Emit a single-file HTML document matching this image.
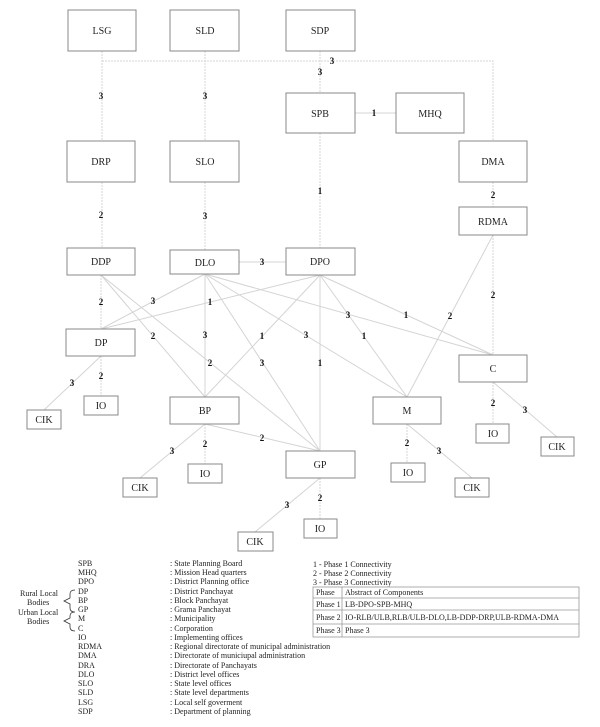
<!DOCTYPE html>
<html><head><meta charset="utf-8"><style>
body{margin:0;background:#fff;}
svg{display:block;font-family:"Liberation Serif",serif;}
.b{fill:#fff;stroke:#888;stroke-width:1}
.t{font-size:10px;text-anchor:middle;fill:#222}
.l{stroke:#d4d4d4;stroke-width:1;fill:none}
.d{stroke:#d4d4d4;stroke-width:1;stroke-dasharray:2,1;fill:none}
.n{font-size:9px;font-weight:bold;text-anchor:middle;fill:#111}
.g{font-size:8px;fill:#222}
</style></head><body>
<svg width="600" height="727" viewBox="0 0 600 727">
<path class="d" d="M102 51V141 M205 51V141 M320 51V93 M102 61H493V141 M320 133V248 M102 182V248 M205 182V250 M493 182V207 M493 235V355 M101 275V329 M101 356V396 M205 424V464 M320 478V519 M407 424V463 M493 382V424"/>
<path class="l" d="M355 113H396 M239 262H286
M205 274L101 329 M320 275L101 329
M101 275L205 397 M101 275L320 451
M205 274L205 397 M205 274L320 451 M205 274L407 397 M205 274L493 355
M320 275L205 397 M320 275V451 M320 275L407 397 M320 275L493 355
M493 235L407 397
M205 424L320 451
M101 356L44 410 M205 424L140 478 M320 478L255 532 M407 424L472 478 M493 382L557 437"/>
<g>
<rect class="b" x="68" y="10" width="68" height="41"/><text class="t" x="102" y="34">LSG</text>
<rect class="b" x="170" y="10" width="69" height="41"/><text class="t" x="205" y="34">SLD</text>
<rect class="b" x="286" y="10" width="69" height="41"/><text class="t" x="320" y="34">SDP</text>
<rect class="b" x="286" y="93" width="69" height="40"/><text class="t" x="320" y="117">SPB</text>
<rect class="b" x="396" y="93" width="68" height="40"/><text class="t" x="430" y="117">MHQ</text>
<rect class="b" x="67" y="141" width="68" height="41"/><text class="t" x="101" y="165">DRP</text>
<rect class="b" x="170" y="141" width="69" height="41"/><text class="t" x="205" y="165">SLO</text>
<rect class="b" x="459" y="141" width="68" height="41"/><text class="t" x="493" y="165">DMA</text>
<rect class="b" x="459" y="207" width="68" height="28"/><text class="t" x="493" y="225">RDMA</text>
<rect class="b" x="67" y="248" width="68" height="27"/><text class="t" x="101" y="265">DDP</text>
<rect class="b" x="170" y="250" width="69" height="24"/><text class="t" x="205" y="266">DLO</text>
<rect class="b" x="286" y="248" width="69" height="27"/><text class="t" x="320" y="265">DPO</text>
<rect class="b" x="66" y="329" width="69" height="27"/><text class="t" x="101" y="346">DP</text>
<rect class="b" x="459" y="355" width="68" height="27"/><text class="t" x="493" y="372">C</text>
<rect class="b" x="170" y="397" width="69" height="27"/><text class="t" x="205" y="414">BP</text>
<rect class="b" x="373" y="397" width="68" height="27"/><text class="t" x="407" y="414">M</text>
<rect class="b" x="286" y="451" width="69" height="27"/><text class="t" x="320" y="468">GP</text>
<rect class="b" x="27" y="410" width="34" height="19"/><text class="t" x="44" y="423">CIK</text>
<rect class="b" x="84" y="396" width="34" height="19"/><text class="t" x="101" y="409">IO</text>
<rect class="b" x="123" y="478" width="34" height="19"/><text class="t" x="140" y="491">CIK</text>
<rect class="b" x="188" y="464" width="34" height="19"/><text class="t" x="205" y="477">IO</text>
<rect class="b" x="238" y="532" width="35" height="19"/><text class="t" x="255" y="545">CIK</text>
<rect class="b" x="304" y="519" width="33" height="19"/><text class="t" x="320" y="532">IO</text>
<rect class="b" x="391" y="463" width="34" height="19"/><text class="t" x="408" y="476">IO</text>
<rect class="b" x="455" y="478" width="34" height="19"/><text class="t" x="472" y="491">CIK</text>
<rect class="b" x="476" y="424" width="33" height="19"/><text class="t" x="493" y="437">IO</text>
<rect class="b" x="541" y="437" width="33" height="19"/><text class="t" x="557" y="450">CIK</text>
</g>
<g>
<text class="n" x="332" y="64">3</text><text class="n" x="320" y="75">3</text>
<text class="n" x="101" y="99">3</text><text class="n" x="205" y="99">3</text>
<text class="n" x="374" y="116">1</text><text class="n" x="320" y="194">1</text>
<text class="n" x="101" y="218">2</text><text class="n" x="205" y="219">3</text>
<text class="n" x="493" y="198">2</text><text class="n" x="262" y="265">3</text>
<text class="n" x="101" y="305">2</text><text class="n" x="153" y="304">3</text>
<text class="n" x="210" y="305">1</text><text class="n" x="348" y="318">3</text>
<text class="n" x="406" y="318">1</text><text class="n" x="450" y="319">2</text>
<text class="n" x="493" y="298">2</text><text class="n" x="153" y="339">2</text>
<text class="n" x="205" y="338">3</text><text class="n" x="262" y="339">1</text>
<text class="n" x="306" y="338">3</text><text class="n" x="364" y="339">1</text>
<text class="n" x="210" y="366">2</text><text class="n" x="262" y="366">3</text>
<text class="n" x="320" y="366">1</text><text class="n" x="72" y="386">3</text>
<text class="n" x="101" y="379">2</text><text class="n" x="262" y="441">2</text>
<text class="n" x="172" y="454">3</text><text class="n" x="205" y="447">2</text>
<text class="n" x="493" y="406">2</text><text class="n" x="525" y="413">3</text>
<text class="n" x="407" y="446">2</text><text class="n" x="439" y="454">3</text>
<text class="n" x="287" y="508">3</text><text class="n" x="320" y="501">2</text>
</g>
<g class="g">
<text x="78" y="566">SPB</text><text x="170" y="566">: State Planning Board</text>
<text x="78" y="575">MHQ</text><text x="170" y="575">: Mission Head quarters</text>
<text x="78" y="584">DPO</text><text x="170" y="584">: District Planning office</text>
<text x="78" y="594">DP</text><text x="170" y="594">: District Panchayat</text>
<text x="78" y="603">BP</text><text x="170" y="603">: Block Panchayat</text>
<text x="78" y="612">GP</text><text x="170" y="612">: Grama Panchayat</text>
<text x="78" y="621">M</text><text x="170" y="621">: Municipality</text>
<text x="78" y="631">C</text><text x="170" y="631">: Corporation</text>
<text x="78" y="640">IO</text><text x="170" y="640">: Implementing offices</text>
<text x="78" y="649">RDMA</text><text x="170" y="649">: Regional directorate of municipal administration</text>
<text x="78" y="658">DMA</text><text x="170" y="658">: Directorate of municiupal administration</text>
<text x="78" y="668">DRA</text><text x="170" y="668">: Directorate of Panchayats</text>
<text x="78" y="677">DLO</text><text x="170" y="677">: District level offices</text>
<text x="78" y="686">SLO</text><text x="170" y="686">: State level offices</text>
<text x="78" y="695">SLD</text><text x="170" y="695">: State level departments</text>
<text x="78" y="705">LSG</text><text x="170" y="705">: Local self goverment</text>
<text x="78" y="714">SDP</text><text x="170" y="714">: Department of planning</text>
<text x="20" y="596">Rural Local</text><text x="27" y="605">Bodies</text>
<text x="18" y="615">Urban Local</text><text x="27" y="624">Bodies</text>
<text x="313" y="567">1 -   Phase 1 Connectivity</text>
<text x="313" y="576">2 -   Phase 2 Connectivity</text>
<text x="313" y="585">3 -   Phase 3 Connectivity</text>
</g>
<path d="M75 590 Q70 590 70 594 V598 L64 601 L70 604 V608 Q70 612 75 612 M75 612 Q70 612 70 616 V618 L64 621 L70 624 V627 Q70 631 75 631" stroke="#333" stroke-width="0.8" fill="none"/>
<g stroke="#999" stroke-width="0.8" fill="none">
<rect x="313" y="587" width="266" height="50"/>
<path d="M313 598H579 M313 610H579 M313 624H579 M342 587V637"/>
</g>
<g class="g">
<text x="316" y="595">Phase</text><text x="345" y="595">Abstract of Components</text>
<text x="316" y="607">Phase 1</text><text x="345" y="607">LB-DPO-SPB-MHQ</text>
<text x="316" y="620">Phase 2</text><text x="345" y="620">IO-RLB/ULB,RLB/ULB-DLO,LB-DDP-DRP,ULB-RDMA-DMA</text>
<text x="316" y="633">Phase 3</text><text x="345" y="633">Phase 3</text>
</g>
</svg>
</body></html>
